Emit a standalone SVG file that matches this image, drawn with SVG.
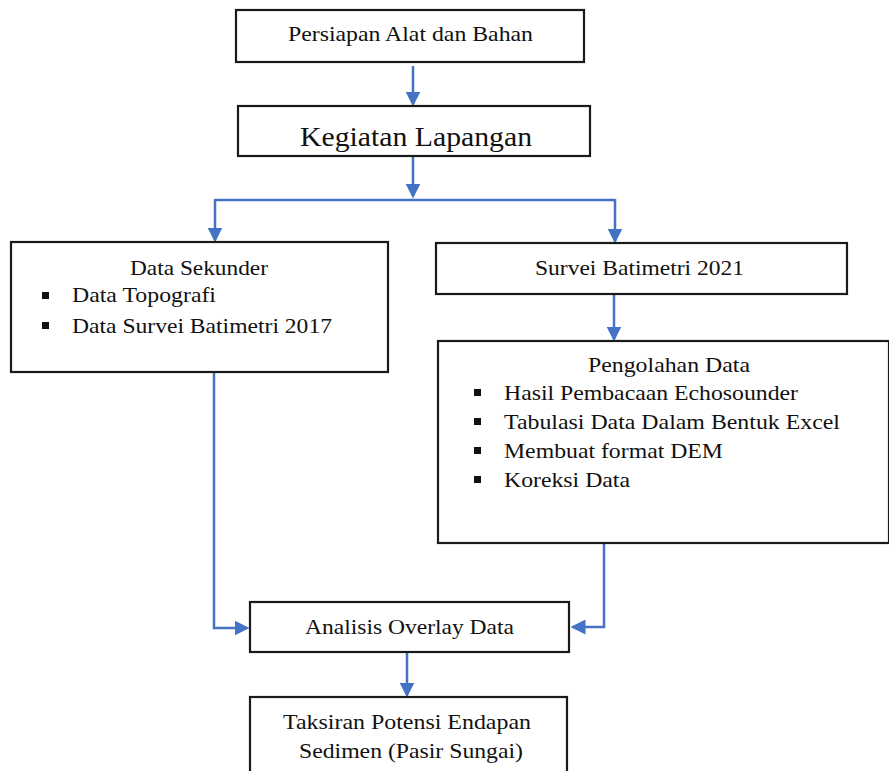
<svg xmlns="http://www.w3.org/2000/svg" width="889" height="771" viewBox="0 0 889 771">
<style>
.box{fill:#fff;stroke:#1a1a1a;stroke-width:2.2}
.t{font-family:'Liberation Serif','Times New Roman',serif;font-size:22px;fill:#111}
.c{text-anchor:middle}
.ln{fill:none;stroke:#4472C4;stroke-width:2.5}
.b{fill:#111}
</style>
<defs>
<marker id="ah" markerWidth="6" markerHeight="6" refX="5" refY="3" orient="auto" markerUnits="strokeWidth">
<path d="M0,0 L6,3 L0,6 Z" fill="#4472C4"/>
</marker>
</defs>
<rect width="889" height="771" fill="#fff"/>
<g id="connectors">
<path class="ln" d="M413,66 V104" marker-end="url(#ah)"/>
<path class="ln" d="M413,157 V196" marker-end="url(#ah)"/>
<path class="ln" d="M215,200 H615"/>
<path class="ln" d="M215,199 V240" marker-end="url(#ah)"/>
<path class="ln" d="M615,199 V241" marker-end="url(#ah)"/>
<path class="ln" d="M614,295 V339" marker-end="url(#ah)"/>
<path class="ln" d="M214,373 V628 H247" marker-end="url(#ah)"/>
<path class="ln" d="M604,544 V627 H573" marker-end="url(#ah)"/>
<path class="ln" d="M407,653 V695" marker-end="url(#ah)"/>
</g>
<g id="n1">
<rect class="box" x="236" y="10" width="348" height="52"/>
<text class="t c" x="410.5" y="41" textLength="245" lengthAdjust="spacingAndGlyphs">Persiapan Alat dan Bahan</text>
</g>
<g id="n2">
<rect class="box" x="238" y="106" width="352" height="50"/>
<text class="t c" x="416" y="146" style="font-size:28px" textLength="232" lengthAdjust="spacingAndGlyphs">Kegiatan Lapangan</text>
</g>
<g id="n3">
<rect class="box" x="11" y="242" width="377" height="130"/>
<text class="t c" x="199" y="275" textLength="138" lengthAdjust="spacingAndGlyphs">Data Sekunder</text>
<rect class="b" x="42" y="292" width="7" height="7"/>
<text class="t" x="72" y="302" textLength="144" lengthAdjust="spacingAndGlyphs">Data Topografi</text>
<rect class="b" x="42" y="322" width="7" height="7"/>
<text class="t" x="72" y="333" textLength="260" lengthAdjust="spacingAndGlyphs">Data Survei Batimetri 2017</text>
</g>
<g id="n4">
<rect class="box" x="436" y="243" width="411" height="51"/>
<text class="t c" x="639.5" y="275" textLength="209" lengthAdjust="spacingAndGlyphs">Survei Batimetri 2021</text>
</g>
<g id="n5">
<rect class="box" x="438" y="341" width="451" height="202"/>
<text class="t c" x="669" y="372" textLength="162" lengthAdjust="spacingAndGlyphs">Pengolahan Data</text>
<rect class="b" x="474" y="389" width="7" height="7"/>
<text class="t" x="504" y="400" textLength="294" lengthAdjust="spacingAndGlyphs">Hasil Pembacaan Echosounder</text>
<rect class="b" x="474" y="418" width="7" height="7"/>
<text class="t" x="504" y="429" textLength="336" lengthAdjust="spacingAndGlyphs">Tabulasi Data Dalam Bentuk Excel</text>
<rect class="b" x="474" y="447" width="7" height="7"/>
<text class="t" x="504" y="458" textLength="219" lengthAdjust="spacingAndGlyphs">Membuat format DEM</text>
<rect class="b" x="474" y="476" width="7" height="7"/>
<text class="t" x="504" y="487" textLength="126" lengthAdjust="spacingAndGlyphs">Koreksi Data</text>
</g>
<g id="n6">
<rect class="box" x="250" y="602" width="319" height="50"/>
<text class="t c" x="409.5" y="634" textLength="209" lengthAdjust="spacingAndGlyphs">Analisis Overlay Data</text>
</g>
<g id="n7">
<rect class="box" x="250" y="697" width="317" height="90"/>
<text class="t c" x="407" y="729" textLength="248" lengthAdjust="spacingAndGlyphs">Taksiran Potensi Endapan</text>
<text class="t c" x="411" y="758" textLength="224" lengthAdjust="spacingAndGlyphs">Sedimen (Pasir Sungai)</text>
</g>
</svg>
